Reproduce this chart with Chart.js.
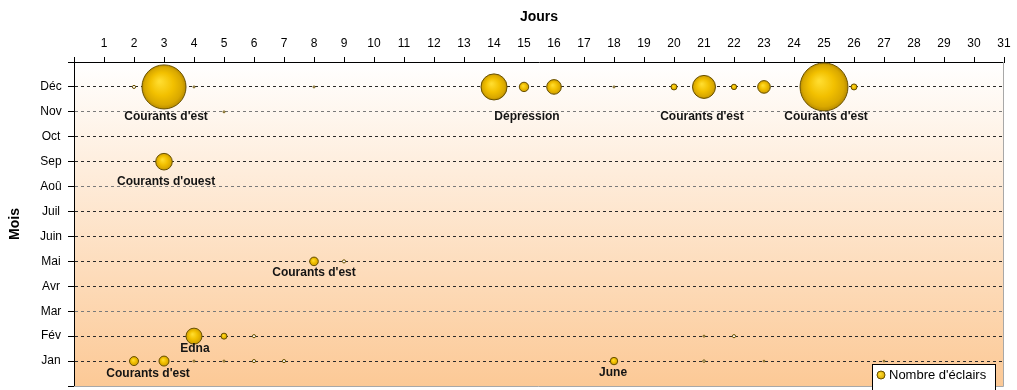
<!DOCTYPE html>
<html>
<head>
<meta charset="utf-8">
<script src="https://cdn.jsdelivr.net/npm/chart.js@4/dist/chart.umd.min.js"></script>
<style>
  html, body { margin: 0; padding: 0; background: #ffffff; }
  #wrap { width: 1017px; height: 390px; }
</style>
</head>
<body>
<div id="wrap"><canvas id="c" width="1017" height="390"></canvas></div>
<script>
// ---- data ----
const dayLabels = ['1','2','3','4','5','6','7','8','9','10','11','12','13','14','15','16','17','18','19','20','21','22','23','24','25','26','27','28','29','30','31'];
const monthLabels = ['', 'Jan', 'Fév', 'Mar', 'Avr', 'Mai', 'Juin', 'Juil', 'Aoû', 'Sep', 'Oct', 'Nov', 'Déc', ''];

// day of month, month number (1 = Jan ... 12 = Déc), number of lightning strikes
const eventDays   = [2, 3, 4, 8, 14, 15, 16, 18, 20, 21, 22, 23, 25, 26,   5,   3,   8, 9,   4, 5, 6, 21, 22,   2, 3, 4, 5, 6, 7, 18, 21, 23, 27];
const eventMonths = [12,12,12,12,12, 12, 12, 12, 12, 12, 12, 12, 12, 12,  11,   9,   5, 5,   2, 2, 2, 2, 2,     1, 1, 1, 1, 1, 1, 1, 1, 1, 1];
const strikeCounts= [10,1940,4,4,680, 88,215, 4, 36,530, 29,160,2300,36,  4, 276,  74,10, 256,36,10, 4, 10,   81,100,4, 4,10,10, 55, 6, 3, 3];

const seriesLabel = "Nombre d'éclairs";

// annotation texts anchored in axis units (day, month)
const noteTexts  = ["Courants d'est", "Dépression", "Courants d'est", "Courants d'est", "Courants d'ouest", "Courants d'est", "Edna", "Courants d'est", "June"];
const noteDays   = [3.07, 15.1, 20.93, 25.07, 3.07, 8.0, 4.03, 2.47, 17.97];
const noteMonths = [10.79, 10.79, 10.79, 10.79, 8.19, 4.53, 1.48, 0.48, 0.52];

// ---- build ----
const sizeScale = 0.5; // bubble radius proportional to sqrt(count) (area ~ count)
const points = eventDays.map((d, i) => ({ x: d, y: eventMonths[i], r: sizeScale * Math.sqrt(strikeCounts[i]) }));

Chart.defaults.font.family = "'Liberation Sans', Arial, sans-serif";
Chart.defaults.color = '#000';
// keep the plot area fixed: bubbles may overflow the axes like in the original
Chart.BubbleController.prototype.getMaxOverflow = function () { return 0; };

function bubbleFill(ctx) {
  const raw = ctx.raw;
  const chart = ctx.chart;
  const xs = chart.scales && chart.scales.x, ys = chart.scales && chart.scales.y;
  if (!raw || !xs || !ys) return '#EBBB00';
  const r = raw.r;
  if (r < 1.8) return '#ffffff';
  const cx = xs.getPixelForValue(raw.x), cy = ys.getPixelForValue(raw.y);
  if (!isFinite(cx) || !isFinite(cy) || !isFinite(r)) return '#EBBB00';
  const g = chart.ctx.createRadialGradient(cx - r * 0.2, cy - r * 0.25, r * 0.05, cx, cy, r);
  g.addColorStop(0, '#FFDC2E');
  g.addColorStop(0.5, '#F2C000');
  g.addColorStop(0.85, '#D9A800');
  g.addColorStop(1, '#B88C00');
  return g;
}

const bgPlugin = {
  id: 'bgPlugin',
  beforeDraw(chart) {
    const { ctx, chartArea: a } = chart;
    const g = ctx.createLinearGradient(0, a.top, 0, a.bottom);
    g.addColorStop(0, '#FFFFFF');
    g.addColorStop(1, '#FCC996');
    ctx.save();
    ctx.fillStyle = g;
    ctx.fillRect(a.left, a.top, a.right - a.left, a.bottom - a.top);
    ctx.restore();
  },
  beforeDatasetsDraw(chart) {
    const { ctx, chartArea: a } = chart;
    ctx.save();
    ctx.strokeStyle = '#A8A8A8';
    ctx.lineWidth = 1;
    ctx.beginPath();
    ctx.moveTo(a.left, Math.round(a.bottom) + 0.5);
    ctx.lineTo(Math.round(a.right) - 0.5, Math.round(a.bottom) + 0.5);
    ctx.lineTo(Math.round(a.right) - 0.5, a.top);
    ctx.stroke();
    ctx.restore();
  },
  afterDatasetsDraw(chart) {
    const { ctx } = chart;
    const xs = chart.scales.x, ys = chart.scales.y;
    ctx.save();
    ctx.font = "bold 12px 'Liberation Sans', Arial, sans-serif";
    ctx.fillStyle = '#141414';
    ctx.textAlign = 'center';
    ctx.textBaseline = 'middle';
    noteTexts.forEach((t, i) => {
      ctx.fillText(t, xs.getPixelForValue(noteDays[i]), ys.getPixelForValue(noteMonths[i]));
    });
    ctx.restore();
  },
  afterDraw(chart) {
    const { ctx } = chart;
    // legend box (bottom right, overlapping plot)
    const bx = 872.5, by = 364.5, bw = 123, bh = 32;
    ctx.save();
    ctx.fillStyle = '#ffffff';
    ctx.fillRect(bx, by, bw, bh);
    ctx.strokeStyle = '#000';
    ctx.lineWidth = 1;
    ctx.strokeRect(bx, by, bw, bh);
    const mx = 881, my = 375, mr = 4;
    const g = ctx.createRadialGradient(mx - 1, my - 1, 0.5, mx, my, mr);
    g.addColorStop(0, '#FFDC2E');
    g.addColorStop(1, '#D9A800');
    ctx.beginPath();
    ctx.arc(mx, my, mr, 0, Math.PI * 2);
    ctx.fillStyle = g;
    ctx.fill();
    ctx.strokeStyle = '#6B5200';
    ctx.stroke();
    ctx.font = "13px 'Liberation Sans', Arial, sans-serif";
    ctx.fillStyle = '#000';
    ctx.textAlign = 'left';
    ctx.textBaseline = 'middle';
    ctx.fillText(chart.data.datasets[0].label, 889, 375);
    ctx.restore();
  }
};

const grayRows = [3, 8, 11];

new Chart(document.getElementById('c'), {
  type: 'bubble',
  data: {
    datasets: [{
      label: seriesLabel,
      data: points,
      backgroundColor: bubbleFill,
      borderColor: '#6B5200',
      borderWidth: 1,
      hoverBorderWidth: 1,
      clip: false
    }]
  },
  options: {
    responsive: false,
    devicePixelRatio: 1,
    animation: false,
    events: [],
    layout: { padding: { left: 0, top: 0, right: 13, bottom: 4 } },
    plugins: {
      legend: { display: false },
      tooltip: { enabled: false }
    },
    scales: {
      x: {
        type: 'linear',
        position: 'top',
        min: 0,
        max: 31,
        afterFit(scale) { scale.height = 62; scale.paddingLeft = 0; scale.paddingRight = 0; },
        ticks: {
          stepSize: 1,
          autoSkip: false,
          maxRotation: 0,
          padding: 6,
          color: '#000',
          font: { size: 12 },
          callback: (v) => dayLabels[v - 1] || ''
        },
        grid: {
          drawOnChartArea: false,
          drawTicks: true,
          tickLength: 5,
          color: '#000',
          tickColor: '#000'
        },
        border: { display: true, color: '#000', width: 1 },
        title: {
          display: true,
          text: 'Jours',
          color: '#000',
          font: { size: 14, weight: 'bold' },
          padding: { top: 9, bottom: 0 }
        }
      },
      y: {
        type: 'linear',
        position: 'left',
        min: 0,
        max: 13,
        afterFit(scale) { scale.width = 74; scale.paddingTop = 0; scale.paddingBottom = 0; },
        ticks: {
          stepSize: 1,
          autoSkip: false,
          padding: 6,
          crossAlign: 'center',
          color: '#000',
          font: { size: 12 },
          callback: (v) => monthLabels[v] || ''
        },
        grid: {
          drawTicks: true,
          tickLength: 6,
          tickColor: '#000',
          lineWidth: 1,
          color: (c) => {
            const v = c.tick ? c.tick.value : 0;
            if (v <= 0 || v >= 13) return 'rgba(0,0,0,0)';
            return grayRows.includes(v) ? '#7A7A7A' : '#2A2A2A';
          }
        },
        border: { display: true, color: '#000', width: 1, dash: [3, 3] },
        title: {
          display: true,
          text: 'Mois',
          color: '#000',
          font: { size: 14, weight: 'bold' },
          padding: { top: 7, bottom: 0 }
        }
      }
    }
  },
  plugins: [bgPlugin]
});
</script>
</body>
</html>
